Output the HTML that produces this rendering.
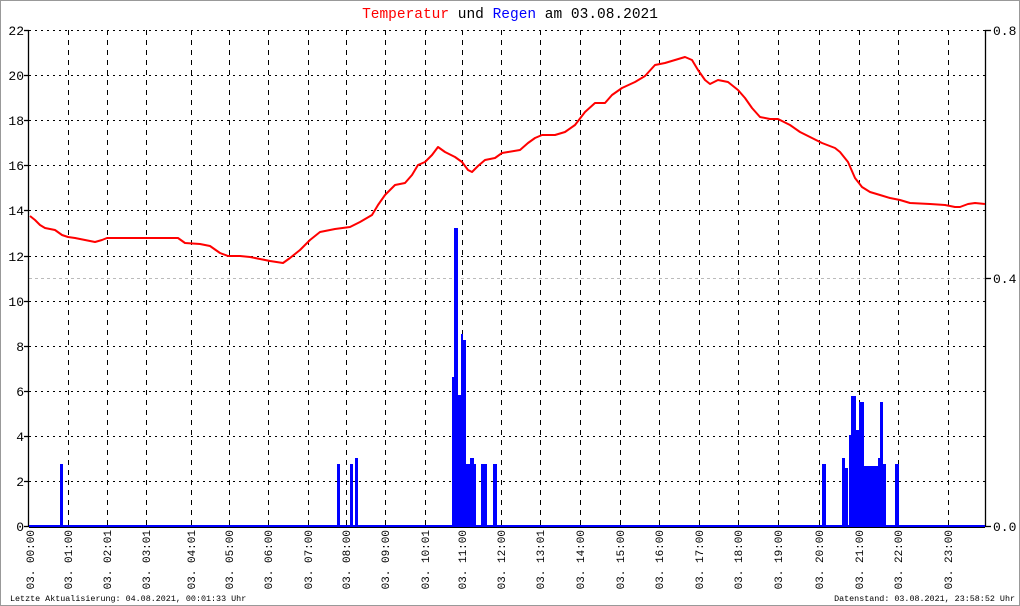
<!DOCTYPE html>
<html><head><meta charset="utf-8"><style>
html,body{margin:0;padding:0;background:#fff}
svg{display:block}
text{font-family:"Liberation Mono","DejaVu Sans Mono",monospace}
</style></head><body>
<svg width="1020" height="606" viewBox="0 0 1020 606" xmlns="http://www.w3.org/2000/svg">
<rect x="0.5" y="0.5" width="1019" height="605" fill="#fff" stroke="#999"/>
<text x="510" y="18" font-size="14.5" text-anchor="middle"><tspan fill="#f00">Temperatur</tspan> und <tspan fill="#00f">Regen</tspan> am 03.08.2021</text>
<g stroke="#000" stroke-dasharray="2,4" stroke-width="1">
<line x1="29" y1="30.5" x2="985" y2="30.5"/>
<line x1="29" y1="75.5" x2="985" y2="75.5"/>
<line x1="29" y1="120.5" x2="985" y2="120.5"/>
<line x1="29" y1="165.5" x2="985" y2="165.5"/>
<line x1="29" y1="210.5" x2="985" y2="210.5"/>
<line x1="29" y1="256.5" x2="985" y2="256.5"/>
<line x1="29" y1="301.5" x2="985" y2="301.5"/>
<line x1="29" y1="346.5" x2="985" y2="346.5"/>
<line x1="29" y1="391.5" x2="985" y2="391.5"/>
<line x1="29" y1="436.5" x2="985" y2="436.5"/>
<line x1="29" y1="481.5" x2="985" y2="481.5"/>
</g>
<line x1="29" y1="278.5" x2="985" y2="278.5" stroke="#bbb" stroke-dasharray="3,3"/>
<g stroke="#000" stroke-dasharray="5,5" stroke-width="1">
<line x1="68.5" y1="30" x2="68.5" y2="526"/><line x1="107.5" y1="30" x2="107.5" y2="526"/><line x1="146.5" y1="30" x2="146.5" y2="526"/><line x1="191.5" y1="30" x2="191.5" y2="526"/><line x1="229.5" y1="30" x2="229.5" y2="526"/><line x1="268.5" y1="30" x2="268.5" y2="526"/><line x1="308.5" y1="30" x2="308.5" y2="526"/><line x1="346.5" y1="30" x2="346.5" y2="526"/><line x1="385.5" y1="30" x2="385.5" y2="526"/><line x1="425.5" y1="30" x2="425.5" y2="526"/><line x1="462.5" y1="30" x2="462.5" y2="526"/><line x1="501.5" y1="30" x2="501.5" y2="526"/><line x1="540.5" y1="30" x2="540.5" y2="526"/><line x1="580.5" y1="30" x2="580.5" y2="526"/><line x1="620.5" y1="30" x2="620.5" y2="526"/><line x1="659.5" y1="30" x2="659.5" y2="526"/><line x1="699.5" y1="30" x2="699.5" y2="526"/><line x1="738.5" y1="30" x2="738.5" y2="526"/><line x1="778.5" y1="30" x2="778.5" y2="526"/><line x1="819.5" y1="30" x2="819.5" y2="526"/><line x1="859.5" y1="30" x2="859.5" y2="526"/><line x1="898.5" y1="30" x2="898.5" y2="526"/><line x1="948.5" y1="30" x2="948.5" y2="526"/>
</g>
<g stroke="#000" stroke-width="1.3">
<line x1="28.5" y1="30" x2="28.5" y2="527"/>
<line x1="985.5" y1="30" x2="985.5" y2="527"/>
<line x1="24" y1="30.5" x2="29" y2="30.5"/><line x1="24" y1="75.5" x2="29" y2="75.5"/><line x1="24" y1="120.5" x2="29" y2="120.5"/><line x1="24" y1="165.5" x2="29" y2="165.5"/><line x1="24" y1="210.5" x2="29" y2="210.5"/><line x1="24" y1="256.5" x2="29" y2="256.5"/><line x1="24" y1="301.5" x2="29" y2="301.5"/><line x1="24" y1="346.5" x2="29" y2="346.5"/><line x1="24" y1="391.5" x2="29" y2="391.5"/><line x1="24" y1="436.5" x2="29" y2="436.5"/><line x1="24" y1="481.5" x2="29" y2="481.5"/><line x1="24" y1="526.5" x2="29" y2="526.5"/>
<line x1="985" y1="30.5" x2="991" y2="30.5"/><line x1="985" y1="278.5" x2="991" y2="278.5"/><line x1="985" y1="526.5" x2="991" y2="526.5"/>
</g>
<g font-size="13" text-anchor="end" fill="#000">
<text x="24" y="35">22</text><text x="24" y="80">20</text><text x="24" y="125">18</text><text x="24" y="170">16</text><text x="24" y="215">14</text><text x="24" y="261">12</text><text x="24" y="306">10</text><text x="24" y="351">8</text><text x="24" y="396">6</text><text x="24" y="441">4</text><text x="24" y="486">2</text><text x="24" y="531">0</text>
</g>
<g font-size="13" fill="#000"><text x="993" y="35">0.8</text><text x="993" y="283">0.4</text><text x="993" y="531">0.0</text></g>
<g fill="#00f">
<rect x="60" y="464" width="3" height="62"/>
<rect x="337" y="464" width="3" height="62"/>
<rect x="350" y="464" width="3" height="62"/><rect x="355" y="458" width="3" height="68"/>
<rect x="452" y="377" width="2" height="149"/><rect x="454" y="228" width="4" height="298"/><rect x="458" y="395" width="3" height="131"/><rect x="461" y="334" width="2" height="192"/><rect x="463" y="340" width="3" height="186"/><rect x="466" y="464" width="4" height="62"/><rect x="470" y="458" width="4" height="68"/><rect x="474" y="464" width="2" height="62"/><rect x="481" y="464" width="6" height="62"/><rect x="493" y="464" width="4" height="62"/>
<rect x="822" y="464" width="4" height="62"/><rect x="842" y="458" width="3" height="68"/><rect x="845" y="468" width="3" height="58"/><rect x="849" y="435" width="2" height="91"/><rect x="851" y="396" width="5" height="130"/><rect x="856" y="430" width="3" height="96"/><rect x="859" y="402" width="5" height="124"/><rect x="864" y="466" width="14" height="60"/><rect x="878" y="458" width="2" height="68"/><rect x="880" y="402" width="3" height="124"/><rect x="883" y="464" width="3" height="62"/><rect x="895" y="464" width="4" height="62"/>
</g>
<line x1="29" y1="526" x2="985" y2="526" stroke="#00f" stroke-width="2"/>
<line x1="29" y1="527.5" x2="985" y2="527.5" stroke="#000" stroke-width="1"/>
<polyline fill="none" stroke="#f00" stroke-width="2" stroke-linejoin="round" points="30,216 35,220 40,225 45,228 55,230 62,235 68,237 75,238 85,240 95,242 102,240 107,238 120,238 150,238 178,238 185,243 200,244 210,246 220,253 228,256 240,256 250,257 260,259 270,261 283,263 290,258 300,250 310,240 320,232 335,229 350,227 360,222 372,215 378,205 385,195 395,185 405,183 412,175 418,165 425,162 432,155 438,147 445,152 455,157 462,162 468,170 472,172 478,166 485,160 495,158 502,153 508,152 520,150 528,143 535,138 542,135 555,135 565,132 575,125 585,112 595,103 605,103 612,95 622,88 635,82 645,76 655,65 665,63 675,60 685,57 692,60 698,70 705,80 710,84 718,80 728,82 738,90 745,98 752,108 760,117 770,119 778,119 790,125 800,132 810,137 822,143 835,148 840,152 848,162 855,178 862,187 870,192 880,195 890,198 900,200 910,203 930,204 945,205 955,207 960,207 968,204 975,203 985,204"/>
<g font-size="11" text-anchor="end" fill="#000">
<text transform="translate(34,530) rotate(-90)">03.  00:00</text>
<text transform="translate(72,530) rotate(-90)">03.  01:00</text>
<text transform="translate(111,530) rotate(-90)">03.  02:01</text>
<text transform="translate(150,530) rotate(-90)">03.  03:01</text>
<text transform="translate(195,530) rotate(-90)">03.  04:01</text>
<text transform="translate(233,530) rotate(-90)">03.  05:00</text>
<text transform="translate(272,530) rotate(-90)">03.  06:00</text>
<text transform="translate(312,530) rotate(-90)">03.  07:00</text>
<text transform="translate(350,530) rotate(-90)">03.  08:00</text>
<text transform="translate(389,530) rotate(-90)">03.  09:00</text>
<text transform="translate(429,530) rotate(-90)">03.  10:01</text>
<text transform="translate(466,530) rotate(-90)">03.  11:00</text>
<text transform="translate(505,530) rotate(-90)">03.  12:00</text>
<text transform="translate(544,530) rotate(-90)">03.  13:01</text>
<text transform="translate(584,530) rotate(-90)">03.  14:00</text>
<text transform="translate(624,530) rotate(-90)">03.  15:00</text>
<text transform="translate(663,530) rotate(-90)">03.  16:00</text>
<text transform="translate(703,530) rotate(-90)">03.  17:00</text>
<text transform="translate(742,530) rotate(-90)">03.  18:00</text>
<text transform="translate(782,530) rotate(-90)">03.  19:00</text>
<text transform="translate(823,530) rotate(-90)">03.  20:00</text>
<text transform="translate(863,530) rotate(-90)">03.  21:00</text>
<text transform="translate(902,530) rotate(-90)">03.  22:00</text>
<text transform="translate(952,530) rotate(-90)">03.  23:00</text>
</g>
<text x="10" y="601" font-size="8.4" fill="#000">Letzte Aktualisierung: 04.08.2021, 00:01:33 Uhr</text>
<text x="1015" y="601" font-size="8.4" fill="#000" text-anchor="end">Datenstand: 03.08.2021, 23:58:52 Uhr</text>
</svg>
</body></html>
